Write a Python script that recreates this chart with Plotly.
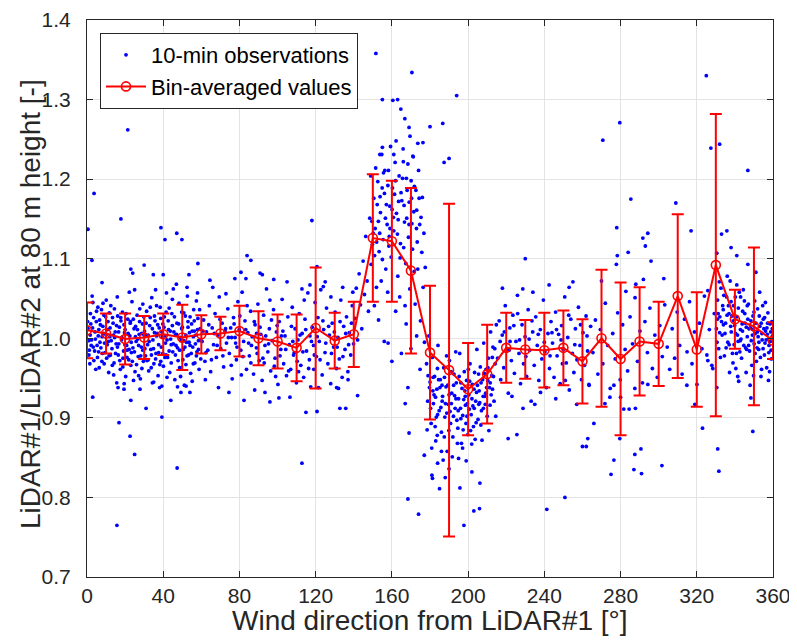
import plotly.graph_objects as go

# ---------------- bin-averaged values ----------------
bin_dir = list(range(0, 361, 10))
bin_mean = [1.010, 1.006, 0.999, 1.001, 1.005, 1.001, 1.005, 1.006, 1.009, 1.000,
            0.996, 0.988, 1.013, 0.997, 1.005, 1.126, 1.122, 1.085, 0.982, 0.960,
            0.936, 0.955, 0.988, 0.986, 0.985, 0.988, 0.971, 1.000, 0.974, 0.996,
            0.993, 1.053, 0.986, 1.092, 1.024, 1.015, 0.997]
bin_std = [0.035, 0.025, 0.032, 0.027, 0.026, 0.041, 0.024, 0.021, 0.032, 0.034,
           0.034, 0.042, 0.076, 0.035, 0.041, 0.080, 0.076, 0.104, 0.084, 0.209,
           0.058, 0.062, 0.044, 0.037, 0.047, 0.047, 0.053, 0.086, 0.096, 0.068,
           0.053, 0.103, 0.072, 0.190, 0.037, 0.099, 0.023]

x_ticks = list(range(0, 361, 40))
y_ticks = [0.7, 0.8, 0.9, 1.0, 1.1, 1.2, 1.3, 1.4]
y_tick_labels = ["0.7", "0.8", "0.9", "1.0", "1.1", "1.2", "1.3", "1.4"]

# ---------------- 10-min observations (direction [deg], ratio [-]) ----------------
obs_000_030 = [
    (0.5,1.012),(1.2,0.985),(1.8,1.031),(2.4,0.998),(3.1,1.045),(3.6,0.972),(4.2,1.008),(4.9,1.021),
    (5.3,0.991),(5.9,1.003),(6.4,0.963),(7.0,1.017),(7.6,1.036),(8.1,0.981),(8.7,1.006),(9.2,0.994),
    (9.8,1.027),(10.3,0.975),(10.9,1.011),(11.4,0.957),(12.0,1.002),(12.5,1.041),(13.1,0.987),(13.7,1.019),
    (14.2,0.969),(14.8,1.008),(15.3,0.993),(15.9,1.052),(16.4,0.979),(17.0,1.014),(17.5,0.961),(18.1,0.998),
    (18.6,1.033),(19.2,0.984),(19.7,1.007),(20.3,0.952),(20.8,0.991),(21.4,1.024),(21.9,0.973),(22.5,1.003),
    (23.0,0.966),(23.6,1.046),(24.1,0.988),(24.7,1.012),(25.2,0.958),(25.8,0.996),(26.3,1.029),(26.9,0.977),
    (27.4,1.005),(28.0,0.949),(28.5,0.989),(29.1,1.018),(29.6,0.971),
    (0.9,0.997),(2.0,1.018),(3.3,0.989),(4.6,0.961),(5.7,1.039),(6.8,0.995),(7.9,1.002),(9.0,0.968),
    (10.1,1.048),(11.2,0.996),(12.3,0.979),(13.4,1.026),(14.5,1.001),(15.6,0.944),(16.7,0.993),(17.8,1.022),
    (18.9,0.975),(20.0,1.011),(21.1,0.985),(22.2,1.058),(23.3,0.982),(24.4,0.947),(25.5,1.015),(26.6,0.999),
    (27.7,1.037),(28.8,0.962),(29.9,1.004),
    (1.5,0.968),(2.7,1.053),(6.1,0.983),(8.4,1.044),(11.7,1.032),(14.0,0.954),(16.1,1.028),(19.5,0.943),
    (22.8,1.021),(25.0,1.061),(27.1,0.953),(29.3,1.043),
    (0.3,1.021),(1.0,0.979),(1.7,1.004),(2.2,0.991),(2.9,1.013),(3.5,1.026),(4.0,0.984),(4.4,0.999),
    (5.0,1.034),(5.5,0.976),(6.2,1.011),(6.6,1.023),(7.3,0.988),(7.8,0.971),(8.3,1.015),(8.9,1.029),
    (9.5,0.982),(10.0,1.004),(10.6,0.992),(11.0,1.021),(11.6,0.978),(12.1,1.013),(12.7,0.997),(13.3,0.966),
    (13.9,1.004),(14.4,1.037),(15.0,0.981),(15.5,1.016),(16.0,0.989),(16.6,1.008),(17.2,0.972),(17.7,1.026),
    (18.3,1.001),(18.8,0.964),(19.4,1.017),(19.9,0.992),(20.5,1.031),(21.0,0.976),(21.6,1.006),(22.1,0.986),
    (22.7,1.019),(23.2,0.995),(23.8,0.971),(24.3,1.024),(24.9,0.983),(25.4,1.002),(26.0,0.967),(26.5,1.011),
    (27.1,0.991),(27.6,1.021),(28.2,0.978),(28.7,1.006),(29.3,0.985),(29.8,1.027),
    (3.7,1.182),(0.5,1.137),(2.6,1.098),(17.8,1.150),(23.0,1.087),(24.0,1.082),(7.9,1.070),
    (3.0,0.926),(16.8,0.894),(22.6,0.877),(25.0,0.854),(15.7,0.765),(23.0,0.922),(16.3,0.938),
    (19.4,0.936),(27.8,0.936),(21.4,1.262),
]
obs_030_060 = [
    (30.2,1.009),(30.7,0.978),(31.3,1.034),(31.8,0.992),(32.4,0.959),(32.9,1.016),(33.5,0.986),(34.0,1.051),
    (34.6,0.998),(35.1,0.968),(35.7,1.022),(36.2,0.981),(36.8,1.006),(37.3,0.953),(37.9,1.013),(38.4,1.039),
    (39.0,0.989),(39.5,1.002),(40.1,0.965),(40.6,1.027),(41.2,0.994),(41.7,1.057),(42.3,0.976),(42.8,1.011),
    (43.4,0.957),(43.9,0.999),(44.5,1.031),(45.0,0.983),(45.6,1.008),(46.1,0.948),(46.7,0.991),(47.2,1.019),
    (47.8,0.972),(48.3,1.044),(48.9,1.001),(49.4,0.963),(50.0,1.014),(50.5,0.986),(51.1,0.941),(51.6,1.028),
    (52.2,0.995),(52.7,1.053),(53.3,0.979),(53.8,1.007),(54.4,0.956),(54.9,1.018),(55.5,0.989),(56.0,1.036),
    (56.6,0.969),(57.1,1.004),(57.7,0.983),(58.2,1.025),(58.8,0.961),(59.4,1.012),
    (31.0,1.003),(32.1,0.973),(33.2,1.026),(34.3,0.944),(35.4,1.007),(36.5,1.041),(37.6,0.982),(38.7,0.971),
    (39.8,1.018),(40.9,1.003),(42.0,0.951),(43.1,1.038),(44.2,0.992),(45.3,1.062),(46.4,1.004),(47.5,0.939),
    (48.6,0.985),(49.7,1.033),(50.8,0.997),(51.9,0.967),(53.0,1.021),(54.1,0.991),(55.2,0.946),(56.3,1.009),
    (57.4,1.047),(58.5,0.997),(59.7,0.974),
    (33.7,0.963),(36.0,1.061),(38.1,0.938),(41.5,0.979),(44.8,1.049),(46.9,1.068),(49.1,0.952),(52.5,1.064),
    (55.8,1.002),(58.0,1.057),
    (30.4,0.987),(31.0,1.019),(31.5,0.972),(32.1,1.004),(32.6,0.996),(33.2,1.039),(33.8,0.979),(34.3,1.012),
    (34.9,0.987),(35.4,1.028),(36.0,0.974),(36.5,1.003),(37.1,1.017),(37.6,0.992),(38.2,0.967),(38.7,1.025),
    (39.3,1.008),(39.8,0.981),(40.4,1.014),(40.9,0.976),(41.5,1.033),(42.0,0.998),(42.6,1.022),(43.1,0.984),
    (43.7,1.009),(44.2,0.969),(44.8,1.016),(45.3,0.993),(45.9,1.027),(46.4,0.979),(47.0,1.005),(47.5,0.988),
    (48.1,1.018),(48.6,0.963),(49.2,0.997),(49.7,1.012),(50.3,0.973),(50.8,1.032),(51.4,0.989),(51.9,1.004),
    (52.5,0.978),(53.0,1.014),(53.6,0.995),(54.1,1.027),(54.7,0.981),(55.2,1.009),(55.8,0.968),(56.3,1.022),
    (56.9,0.993),(57.4,0.978),(58.0,1.011),(58.5,0.986),(59.1,1.036),(59.6,0.998),
    (38.8,1.139),(40.9,1.124),(47.1,1.132),(49.8,1.124),(58.2,1.094),(30.0,1.092),(34.8,1.080),(40.0,1.080),
    (53.5,1.080),(39.3,0.901),(47.3,0.837),(31.0,0.912),(44.0,0.922),(54.0,0.932),(35.0,0.945),(39.3,0.940),
    (49.3,0.932),(52.0,0.940),
]
obs_060_140 = [
    (60.4,0.996),(61.2,1.023),(61.9,0.971),(62.7,1.008),(63.4,0.985),(64.2,1.041),(64.9,0.958),(65.7,1.013),
    (66.4,0.992),(67.2,1.031),(67.9,0.976),(68.7,1.004),(69.4,1.052),(70.2,0.987),(70.9,1.019),(71.7,0.964),
    (72.4,1.009),(73.2,0.994),(73.9,1.037),(74.7,0.981),(75.4,1.013),(76.2,0.949),(76.9,1.026),(77.7,1.001),
    (78.4,0.973),(79.2,1.046),(79.9,1.011),(80.7,0.985),(81.4,1.058),(82.2,0.996),(82.9,1.022),(83.7,0.961),
    (84.4,1.007),(85.2,0.978),(85.9,1.034),(86.7,1.002),(87.4,0.955),(88.2,1.017),(88.9,0.988),(89.7,1.043),
    (90.4,0.972),(91.2,1.005),(91.9,0.947),(92.7,1.029),(93.4,0.991),(94.2,1.062),(94.9,0.983),(95.7,1.012),
    (96.4,0.959),(97.2,0.997),(97.9,1.036),(98.7,0.975),(99.4,1.008),(100.2,0.942),(100.9,1.021),(101.7,0.986),
    (102.4,1.049),(103.2,0.968),(103.9,1.003),(104.7,0.953),(105.4,1.027),(106.2,0.992),(106.9,0.961),(107.7,1.039),
    (108.4,0.979),(109.2,1.012),(109.9,0.944),(110.7,0.998),(111.4,1.031),(112.2,0.966),(112.9,1.006),(113.7,0.951),
    (114.4,1.024),(115.2,0.984),(115.9,1.057),(116.7,0.973),(117.4,0.939),(118.2,1.014),(118.9,0.991),(119.7,1.045),
    (120.4,0.977),(121.2,1.026),(121.9,0.996),(122.7,1.061),(123.4,0.954),(124.2,1.011),(124.9,0.982),(125.7,1.038),
    (126.4,0.968),(127.2,1.004),(127.9,0.943),(128.7,1.019),(129.4,0.989),(130.2,1.033),(130.9,0.962),(131.7,1.001),
    (132.4,0.974),(133.2,1.048),(133.9,0.951),(134.7,1.015),(135.4,0.986),(136.2,1.027),(136.9,0.958),(137.7,1.007),
    (138.4,0.979),(139.2,1.041),(139.9,0.993),
    (62.1,0.948),(66.0,1.064),(69.0,0.938),(72.9,1.056),(75.9,1.001),(78.0,0.994),(81.0,0.954),(84.0,1.041),
    (86.3,0.991),(89.0,1.006),(93.0,0.969),(96.0,1.048),(99.0,0.952),(102.0,1.003),(105.0,1.071),(108.0,0.996),
    (111.0,0.958),(114.0,1.048),(117.0,1.003),(119.0,0.961),(121.5,0.938),(125.0,1.071),(128.0,1.052),(131.0,0.938),
    (134.2,1.064),(137.0,0.948),(139.5,1.058),
    (60.8,1.009),(62.4,0.982),(63.9,1.017),(65.3,0.973),(66.8,1.006),(68.3,0.991),(69.8,1.024),(71.3,0.978),
    (72.7,1.012),(74.2,1.001),(75.7,0.966),(77.2,1.018),(78.7,0.989),(80.2,1.028),(81.8,0.977),(83.3,1.011),
    (84.8,0.994),(86.0,0.969),(87.8,1.021),(89.3,0.981),(90.8,1.014),(92.3,0.975),(93.8,1.003),(95.3,0.993),
    (96.8,1.023),(98.3,0.965),(99.8,1.016),(101.3,0.978),(102.8,1.009),(104.3,0.986),(105.8,0.959),(107.3,1.015),
    (108.8,0.982),(110.3,0.971),(111.8,1.004),(113.3,0.983),(114.8,1.011),(116.3,0.962),(117.8,0.996),(119.3,0.979),
    (120.8,1.002),(122.3,0.973),(123.8,1.022),(125.3,0.994),(126.8,1.015),(128.3,0.981),(129.8,1.008),(131.3,0.989),
    (132.8,1.021),(134.3,0.977),(135.8,1.006),(137.3,0.992),(138.8,1.019),
    (84.0,1.104),(86.0,1.098),(118.0,1.148),(64.5,1.073),(77.6,1.075),(80.8,1.083),(83.4,1.075),(90.8,1.082),
    (92.0,1.080),(98.0,1.074),(112.8,1.062),(117.0,1.067),(120.7,1.090),(124.0,1.065),
    (112.8,0.843),(74.5,0.932),(82.4,0.922),(96.0,0.920),(100.7,0.925),(106.5,0.926),(114.9,0.907),(120.7,0.908),
    (88.0,0.935),(93.4,0.932),(132.7,0.912),(135.8,0.912),(142.0,0.928),(132.0,0.937),
]
obs_140_178 = [
    (140.6,1.025),(141.3,1.063),(142.0,0.998),(142.8,1.081),(143.5,1.042),(144.2,1.012),(144.9,1.097),(145.6,1.055),
    (146.3,1.128),(147.0,1.072),(147.7,1.034),(148.4,1.151),(149.1,1.093),(149.8,1.118),(150.5,1.176),(151.2,1.138),
    (151.9,1.064),(152.6,1.197),(153.3,1.109),(154.0,1.158),(154.7,1.231),(155.4,1.124),(156.1,1.182),(156.8,1.087),
    (157.5,1.143),(158.2,1.211),(158.9,1.166),(159.6,1.102),(160.3,1.189),(161.0,1.135),(161.7,1.221),(162.4,1.157),
    (163.1,1.078),(163.8,1.204),(164.5,1.119),(165.2,1.173),(165.9,1.238),(166.6,1.146),(167.3,1.094),(168.0,1.186),
    (168.7,1.127),(169.4,1.062),(170.1,1.198),(170.8,1.112),(171.5,1.159),(172.2,1.043),(172.9,1.138),(173.6,1.087),
    (174.3,1.176),(175.0,1.022),(175.7,1.108),(176.4,1.064),(177.1,0.995),
    (148.9,1.204),(150.2,1.132),(151.5,1.214),(152.9,1.147),(153.8,1.178),(155.0,1.099),(156.3,1.211),(157.1,1.168),
    (158.6,1.128),(159.3,1.241),(160.8,1.152),(161.4,1.181),(162.9,1.131),(163.5,1.172),(164.1,1.052),(165.6,1.201),
    (166.2,1.114),(167.8,1.151),(168.4,1.219),(169.1,1.171),(170.5,1.144),(171.2,1.228),(172.6,1.186),(173.3,1.121),
    (174.0,1.211),(175.3,1.152),(176.8,1.132),(177.5,1.089),
    (149.5,1.147),(150.9,1.104),(152.3,1.168),(153.6,1.132),(154.9,1.189),(156.6,1.151),(157.9,1.192),(159.0,1.138),
    (160.1,1.162),(161.9,1.198),(163.3,1.149),(164.8,1.183),(166.4,1.167),(167.6,1.201),(169.0,1.143),(170.3,1.176),
    (171.8,1.191),(173.0,1.161),(174.6,1.143),(176.0,1.177),(152.0,1.121),(158.4,1.116),(164.3,1.101),(171.7,1.084),
    (162.2,1.248),(166.0,1.222),(155.6,1.208),
    (151.6,1.358),(155.0,1.300),(160.5,1.299),(163.0,1.300),(164.7,1.288),(166.8,1.276),(169.0,1.265),(170.5,1.334),
    (173.6,1.245),(176.3,1.246),(180.0,1.266),(186.7,1.270),(187.4,1.221),(190.0,1.226),(194.0,1.305),(155.0,1.240),
    (153.7,1.231),(161.0,1.231),(169.5,1.254),(171.0,1.229),
    (150.8,1.041),(153.0,1.023),(156.0,0.996),(158.0,0.994),(160.0,0.971),(165.0,0.981),(162.0,1.034),(167.5,1.018),
    (170.0,0.987),(174.8,0.961),(173.0,1.003),(157.8,1.058),(154.4,1.072),(166.9,1.041),(168.4,0.938),
]
obs_178_215 = [
    (178.2,0.968),(178.8,0.921),(179.4,1.003),(180.0,0.945),(180.6,0.893),(181.2,0.976),(181.8,0.918),(182.4,0.952),
    (183.0,0.871),(183.6,0.936),(184.2,0.991),(184.8,0.909),(185.4,0.948),(186.0,0.882),(186.6,0.927),(187.2,0.963),
    (187.8,0.901),(188.4,0.939),(189.0,0.858),(189.6,0.917),(190.2,0.972),(190.8,0.893),(191.4,0.931),(192.0,0.876),
    (192.6,0.955),(193.2,0.912),(193.8,0.944),(194.4,0.868),(195.0,0.924),(195.6,0.981),(196.2,0.899),(196.8,0.937),
    (197.4,0.885),(198.0,0.958),(198.6,0.916),(199.2,0.947),(199.8,0.879),(200.4,0.929),(201.0,0.968),(201.6,0.904),
    (202.2,0.942),(202.8,0.889),(203.4,0.957),(204.0,0.921),(204.6,0.986),(205.2,0.898),(205.8,0.934),(206.4,0.964),
    (207.0,0.909),(207.6,0.948),(208.2,0.994),(208.8,0.927),(209.4,0.961),(210.0,0.902),(210.6,0.975),(211.2,0.938),
    (211.8,1.008),(212.4,0.953),(213.0,0.989),(213.6,0.921),(214.2,0.968),(214.8,1.017),
    (178.5,0.885),(179.7,0.938),(180.9,0.862),(182.1,0.929),(183.3,0.901),(184.5,0.948),(185.7,0.913),(186.9,0.847),
    (188.1,0.918),(189.3,0.941),(190.5,0.908),(191.7,0.851),(192.9,0.928),(194.1,0.897),(195.3,0.952),(196.5,0.868),
    (197.7,0.923),(198.9,0.893),(200.1,0.961),(201.3,0.884),(202.5,0.915),(203.7,0.873),(204.9,0.941),(206.1,0.919),
    (207.3,0.872),(208.5,0.956),(209.7,0.938),(210.9,0.884),(212.1,0.929),(213.3,0.952),(214.5,0.902),
    (179.0,0.953),(181.5,0.934),(183.9,0.962),(186.3,0.941),(188.7,0.978),(191.1,0.958),(193.5,0.983),(196.0,0.912),
    (198.3,0.934),(200.7,0.911),(203.1,0.936),(205.5,0.955),(207.9,0.927),(210.3,0.947),(212.7,0.976),(182.7,0.889),
    (187.5,0.876),(192.3,0.902),(197.1,0.862),(201.9,0.867),(206.7,0.891),(211.5,0.916),
    (180.3,0.912),(181.6,0.951),(182.9,0.926),(184.0,0.904),(185.2,0.938),(186.4,0.921),(187.6,0.951),(188.8,0.906),
    (190.0,0.929),(191.2,0.918),(192.4,0.941),(193.6,0.924),(194.8,0.909),(196.2,0.944),(197.2,0.903),(198.5,0.927),
    (199.6,0.918),(200.8,0.946),(202.0,0.924),(203.2,0.912),(204.4,0.932),(205.6,0.917),(206.8,0.944),(208.0,0.912),
    (209.2,0.931),(210.4,0.963),(211.6,0.944),(212.8,0.936),(214.0,0.987),(183.8,0.878),(189.9,0.884),(194.6,0.887),
    (199.4,0.902),(204.2,0.894),(209.0,0.917),
    (168.4,0.798),(174.0,0.779),(181.0,0.828),(181.3,0.824),(185.0,0.811),(188.0,0.825),(195.7,0.812),(197.8,0.765),
    (203.0,0.783),(206.0,0.786),(202.0,0.832),(206.2,0.818),(167.0,0.918),(169.0,0.881),(177.0,0.853),(195.0,0.849),
    (221.0,0.874),(225.6,0.879),(184.0,0.843),(190.0,0.836),(199.0,0.846),(186.0,0.858),
]
obs_215_265 = [
    (215.5,0.975),(216.3,1.022),(217.1,0.948),(217.9,1.004),(218.7,0.963),(219.5,1.041),(220.3,0.987),(221.1,0.931),
    (221.9,1.013),(222.7,0.972),(223.5,1.029),(224.3,0.956),(225.1,0.996),(225.9,1.054),(226.7,0.981),(227.5,0.943),
    (228.3,1.017),(229.1,0.968),(229.9,1.002),(230.7,0.952),(231.5,1.036),(232.3,0.985),(233.1,0.921),(233.9,1.008),
    (234.7,0.966),(235.5,1.027),(236.3,0.991),(237.1,0.947),(237.9,1.011),(238.7,0.974),(239.5,1.048),(240.3,0.983),
    (241.1,0.938),(241.9,1.006),(242.7,0.962),(243.5,1.021),(244.3,0.994),(245.1,0.951),(245.9,1.033),(246.7,0.978),
    (247.5,1.005),(248.3,0.943),(249.1,1.016),(249.9,0.986),(250.7,1.052),(251.5,0.969),(252.3,1.001),(253.1,0.935),
    (253.9,1.024),(254.7,0.981),(255.5,0.957),(256.3,1.012),(257.1,0.973),(257.9,1.039),(258.7,0.991),(259.5,0.948),
    (260.3,1.007),(261.1,0.966),(261.9,1.028),(262.7,0.984),(263.5,0.941),(264.3,1.015),
    (216.8,0.996),(219.0,1.008),(221.5,0.985),(224.0,1.016),(227.0,0.998),(230.3,0.977),(233.5,1.022),(236.8,1.005),
    (240.0,0.995),(243.0,0.978),(246.4,1.011),(249.5,0.968),(252.8,1.029),(256.0,0.992),(259.0,1.017),(262.4,1.003),
    (218.0,1.063),(223.0,0.927),(226.0,1.031),(230.0,1.100),(228.7,1.062),(228.8,0.912),(235.0,0.917),(234.0,1.058),
    (238.0,0.932),(242.5,1.067),(246.0,0.924),(251.0,0.947),(255.0,1.071),(257.0,0.917),(241.3,0.785),(250.8,0.800),
    (253.0,1.064),(222.0,0.996),(232.0,0.999),(244.0,1.007),(248.8,0.998),
]
obs_265_330 = [
    (265.5,0.982),(266.8,1.023),(268.1,0.955),(269.4,1.011),(270.7,0.968),(272.0,1.044),(273.3,0.991),(274.6,0.937),
    (275.9,1.006),(277.2,0.974),(278.5,1.032),(279.8,0.948),(281.1,1.017),(282.4,0.986),(283.7,0.959),(285.0,1.027),
    (286.3,0.993),(287.6,1.051),(288.9,0.971),(290.2,1.009),(291.5,0.944),(292.8,1.021),(294.1,0.982),(295.4,1.038),
    (296.7,0.962),(298.0,1.004),(299.3,0.951),(300.6,1.016),(301.9,0.977),(303.2,1.042),(304.5,0.989),(305.8,0.961),
    (307.1,1.012),(308.4,0.975),(309.7,1.033),(311.0,0.991),(312.3,0.955),(313.6,1.024),(314.9,0.983),(316.2,1.046),
    (317.5,0.968),(318.8,1.008),(320.1,0.942),(321.4,1.019),(322.7,0.987),(324.0,1.053),(325.3,0.979),(326.6,1.011),
    (327.9,0.966),(329.2,1.031),
    (325.0,1.330),(279.6,1.271),(270.7,1.249),(327.4,1.239),(285.4,1.175),(309.0,1.170),(278.0,1.139),(317.0,1.135),
    (294.3,1.132),(291.7,1.126),(293.0,1.116),(284.0,1.108),(278.3,1.104),(277.8,1.093),(296.0,1.097),(302.7,1.075),
    (292.0,1.074),(270.0,1.072),(282.8,1.059),(288.0,1.068),(325.8,1.060),
    (275.0,0.829),(276.5,0.847),(260.0,0.864),(262.0,0.864),(262.8,0.874),(266.0,0.893),(279.6,0.874),(287.5,0.854),
    (290.7,0.861),(287.0,0.835),(291.0,0.830),(301.7,0.840),(323.0,0.887),(281.7,0.911),(284.5,0.911),(287.8,0.912),
    (280.0,0.926),(276.5,0.941),(271.8,0.918),(274.4,0.926),(287.5,0.937),(294.3,0.942),(314.8,0.941),(319.0,0.917),
    (325.8,0.972),(328.4,0.962),(263.4,0.942),
]
obs_330_360 = [
    (330.3,1.012),(330.9,1.048),(331.5,0.987),(332.1,1.027),(332.7,1.063),(333.3,1.004),(333.9,1.036),(334.5,0.978),
    (335.1,1.019),(335.7,1.052),(336.3,0.995),(336.9,1.031),(337.5,1.072),(338.1,1.008),(338.7,0.981),(339.3,1.041),
    (339.9,1.016),(340.5,0.962),(341.1,1.027),(341.7,0.996),(342.3,1.058),(342.9,1.011),(343.5,0.975),(344.1,1.034),
    (344.7,0.991),(345.3,1.019),(345.9,0.957),(346.5,1.002),(347.1,1.043),(347.7,0.984),(348.3,1.013),(348.9,0.966),
    (349.5,1.028),(350.1,0.993),(350.7,1.006),(351.3,0.971),(351.9,1.037),(352.5,0.986),(353.1,1.015),(353.7,0.952),
    (354.3,0.998),(354.9,1.024),(355.5,0.979),(356.1,1.009),(356.7,0.963),(357.3,1.032),(357.9,0.991),(358.5,1.018),
    (359.1,0.974),(359.7,1.003),
    (330.6,0.995),(331.8,1.071),(333.0,1.021),(334.2,1.054),(335.4,0.988),(336.6,1.041),(337.8,1.015),(339.0,0.969),
    (340.2,1.052),(341.4,1.004),(342.6,0.983),(343.8,1.018),(345.0,1.047),(346.2,0.986),(347.4,1.012),(348.6,0.997),
    (349.8,0.953),(351.0,1.019),(352.2,1.002),(353.4,0.976),(354.6,1.041),(355.8,0.994),(357.0,1.005),(358.2,0.958),
    (359.4,1.021),
    (331.2,1.031),(332.4,0.976),(334.8,1.006),(336.0,1.078),(338.4,1.028),(339.6,0.992),(341.0,1.067),(342.0,0.946),
    (343.2,0.999),(344.4,1.061),(346.8,1.024),(348.0,0.941),(349.2,1.004),(350.4,1.047),(351.6,0.988),(352.8,1.028),
    (354.0,0.961),(355.2,1.012),(356.4,0.998),(357.6,0.947),(358.8,1.008),(345.6,0.988),(340.8,0.981),(337.2,0.957),
    (353.0,1.058),(356.0,1.045),(359.0,0.985),
    (330.8,1.024),(332.0,1.007),(333.6,1.041),(334.0,1.017),(335.9,1.029),(337.0,0.992),(338.0,1.046),(339.2,1.022),
    (340.4,1.006),(341.8,1.038),(342.8,0.997),(344.0,1.009),(345.2,1.031),(346.0,1.014),(347.2,0.991),(348.4,1.022),
    (349.6,1.011),(350.6,0.981),(351.8,1.008),(352.6,0.995),(353.8,1.019),(354.8,0.987),(355.6,1.026),(356.8,1.013),
    (357.8,0.982),(358.6,0.996),(359.6,1.012),(343.0,1.052),(346.5,1.041),(350.0,1.033),(354.2,1.006),(357.2,1.019),
    (332.0,1.244),(346.8,1.211),(333.0,1.131),(335.8,1.135),(338.0,1.114),(341.0,1.104),(330.5,1.107),(346.8,1.093),
    (351.0,1.083),(331.0,0.861),(331.6,0.833),(349.4,0.883),(348.4,0.925),(330.5,0.938),(341.5,0.952),
]

obs_all = (obs_000_030 + obs_030_060 + obs_060_140 + obs_140_178 + obs_178_215
           + obs_215_265 + obs_265_330 + obs_330_360)
obs_dir = [p[0] for p in obs_all]
obs_ratio = [p[1] for p in obs_all]

FONT = "Liberation Sans"
INK = "#262626"

# The page body has an 8 px margin, so the figure is sized/offset to compensate.
FIG_W, FIG_H = 789, 633
M_L, M_R, M_T, M_B = 79, 24, 12, 64

fig = go.Figure()
fig.add_trace(go.Scatter(
    x=obs_dir, y=obs_ratio, mode="markers", name="10-min observations",
    marker=dict(color="#0000FF", size=3.8, line=dict(width=0)),
))
fig.add_trace(go.Scatter(
    x=bin_dir, y=bin_mean, mode="lines+markers", name="Bin-averaged values",
    line=dict(color="#FF0000", width=2),
    marker=dict(symbol="circle-open", size=9, color="#FF0000", line=dict(width=1.6, color="#FF0000")),
    error_y=dict(type="data", array=bin_std, visible=True, color="#FF0000", thickness=2, width=6),
))

axis_common = dict(
    showline=True, linecolor=INK, linewidth=1, mirror="ticks",
    ticks="inside", ticklen=6, tickcolor=INK,
    showgrid=True, gridcolor="#E3E3E3", gridwidth=1, zeroline=False,
    tickfont=dict(family=FONT, size=21, color=INK),
    automargin=False,
)
fig.update_xaxes(range=[0, 360], tickmode="array", tickvals=x_ticks, ticklabelstandoff=0, **axis_common)
fig.update_yaxes(range=[0.7, 1.4], tickmode="array", tickvals=y_ticks, ticktext=y_tick_labels,
                 ticklabelstandoff=11, **axis_common)

plot_w = FIG_W - M_L - M_R
plot_h = FIG_H - M_T - M_B
fig.add_annotation(
    text="Wind direction from LiDAR#1 [°]", xref="paper", yref="paper",
    x=0.5, y=-43 / plot_h, xanchor="center", yanchor="middle", showarrow=False,
    font=dict(family=FONT, size=28, color=INK),
)
fig.add_annotation(
    text="LiDAR#1/LiDAR#2 at 80 m height [-]", xref="paper", yref="paper",
    x=-57 / plot_w, y=0.49, xanchor="center", yanchor="middle", textangle=-90, showarrow=False,
    font=dict(family=FONT, size=28, color=INK),
)

fig.update_layout(
    width=FIG_W, height=FIG_H,
    margin=dict(l=M_L, r=M_R, t=M_T, b=M_B),
    plot_bgcolor="white", paper_bgcolor="white",
    font=dict(family=FONT, color=INK),
    legend=dict(
        x=13 / plot_w, y=1 - 13 / plot_h, xanchor="left", yanchor="top",
        bgcolor="white", bordercolor=INK, borderwidth=1,
        font=dict(family=FONT, size=22, color="#000000"),
        tracegroupgap=0, itemsizing="trace", itemwidth=40,
    ),
    showlegend=True,
)

fig.write_html("out.html")
